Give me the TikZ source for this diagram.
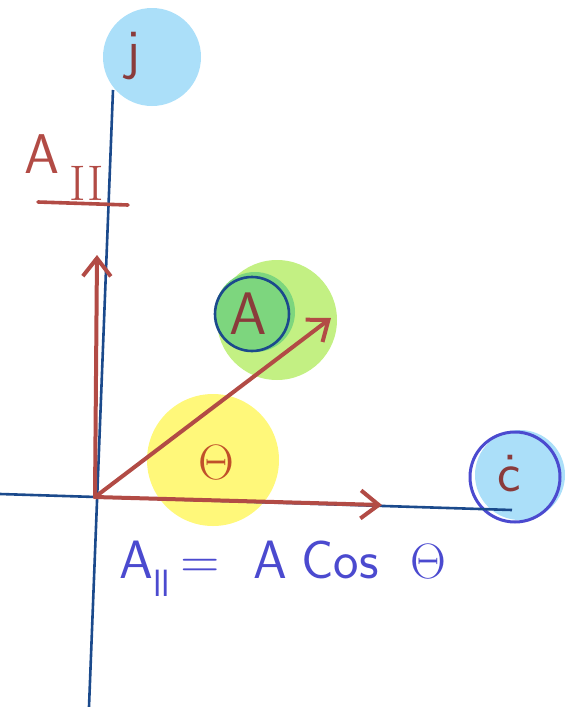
\documentclass[tikz,border=0pt]{standalone}
\usepackage{amsmath,amssymb}
\usepackage{tikz}
\usetikzlibrary{arrows.meta}
\definecolor{axisblue}{HTML}{1B4A8C}
\definecolor{vecred}{HTML}{B24B45}
\definecolor{inkred}{HTML}{8A3B3B}
\definecolor{thetared}{HTML}{C0502A}
\definecolor{skyblue}{HTML}{ABDFF9}
\definecolor{limegreen}{HTML}{C3F083}
\definecolor{midgreen}{HTML}{7DD67E}
\definecolor{sunyellow}{HTML}{FFF87A}
\definecolor{inkblue}{HTML}{4B4ACF}

\begin{document}
\begin{tikzpicture}[x=0.5pt, y=-0.5pt,
  axis/.style={draw=axisblue, line width=1.3pt},
  vec/.style={draw=vecred, line width=2pt, line cap=round,
    -{Straight Barb[length=9pt, width=14pt, line width=2pt]}},
  blob/.style={circle, inner sep=0pt},
  letter/.style={text=inkred, font=\sffamily\fontsize{28}{30}\selectfont, inner sep=0pt},
  every node/.style={font=\sffamily}]

  \useasboundingbox (0,0) rectangle (586,707);

  % coloured blobs
  \node[blob, fill=skyblue, minimum size=49pt] (jblob) at (152,57) {};
  \node[blob, fill=skyblue, minimum size=45pt] (cblob) at (520,475) {};
  \node[blob, fill=limegreen, minimum size=60pt] (Ablob) at (277,320) {};
  \node[blob, fill=midgreen, minimum size=40pt] (Acore) at (255,312) {};
  \node[blob, fill=sunyellow, minimum size=66pt] (tblob) at (213,460) {};
  \node[blob, draw=axisblue, line width=1.3pt, minimum size=37pt] (Aring) at (252,314) {};
  \node[blob, draw=inkblue, line width=1.5pt, minimum size=45pt] (cring) at (515,477) {};

  % axes
  \coordinate (O) at (95,497);
  \coordinate (jtop) at (113,90);
  \coordinate (jbot) at (89,707);
  \coordinate (cleft) at (0,494);
  \coordinate (cright) at (512,510);
  \draw[axis] (jbot) -- (jtop);
  \draw[axis] (cleft) -- (cright);

  % vectors
  \coordinate (vtip) at (97,255);
  \coordinate (htip) at (382,505);
  \coordinate (dtip) at (331,318);
  \draw[vec] (O) -- (vtip);
  \draw[vec] (O) -- (htip);
  \draw[vec] (O) -- (dtip);

  % labels
  \node[letter] (jlab) at (133,56) {j};
  \node[letter] (clab) at (509,474) {\.c};
  \node[letter, font=\sffamily\fontsize{30}{32}\selectfont] (Alab) at (248,314) {A};
  \node[letter, text=thetared, font=\fontsize{31}{33}\selectfont] (tlab) at (216,462) {$\Theta$};

  \node[text=vecred, inner sep=0pt, font=\sffamily\fontsize{28}{30}\selectfont, anchor=base west]
    (Aperp) at (24,173) {A\hspace{5pt}\raisebox{-13.5pt}{\rmfamily\fontsize{25}{27}\selectfont II}};
  \draw[vecred, line width=1.8pt, line cap=round] (38,202) -- (128,205);

  \node[text=inkblue, inner sep=0pt, font=\sffamily\fontsize{27}{29}\selectfont, anchor=base west]
    (Apar) at (119,578) {A\raisebox{-9pt}{\fontsize{19}{20}\selectfont ll}\hspace{5pt}=\hspace{17pt}A\hspace{7pt}Cos\hspace{16pt}{\fontsize{31}{33}\selectfont$\Theta$}};

\end{tikzpicture}
\end{document}
